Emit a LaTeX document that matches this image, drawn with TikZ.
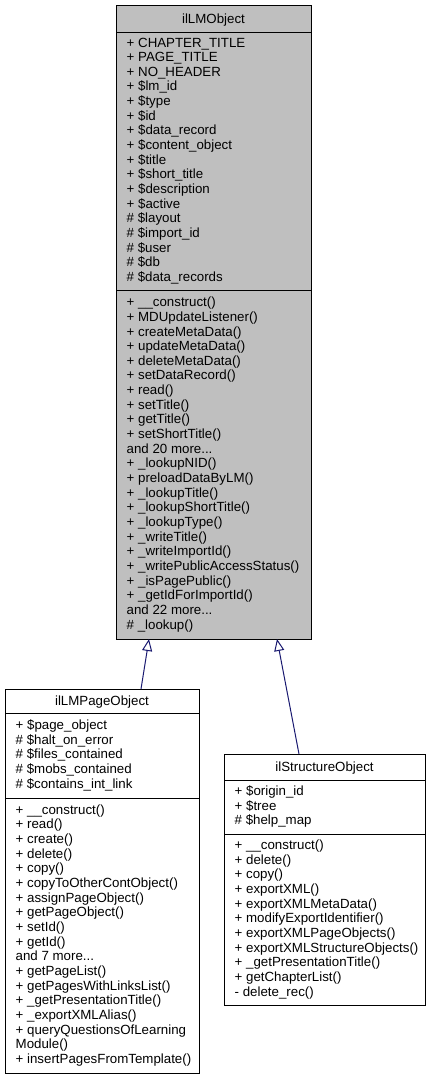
\documentclass[tikz,border=0pt]{standalone}
\usepackage{fontspec}
\setmainfont{Liberation Sans}
\usetikzlibrary{arrows.meta,calc}
\definecolor{edgeblue}{HTML}{191970}
\definecolor{basegray}{HTML}{BFBFBF}
\newcommand{\threedots}{...}
\begin{document}
\begin{tikzpicture}[x=1pt,y=-1pt,
  classbox/.style={draw=black, line width=1pt, rectangle, inner sep=0pt, outer sep=0pt, anchor=north west},
  sepline/.style={draw=black, line width=1pt},
  member/.style={anchor=base west, inner sep=0pt, font=\fontsize{13.3}{14.65}\selectfont},
  classtitle/.style={anchor=center, inner sep=0pt, text height=9.5pt, text depth=0pt, font=\fontsize{13.3}{14.65}\selectfont},
  inherit/.style={draw=edgeblue, line width=1pt, -{Triangle[open,length=12pt,width=10pt]}}]
\useasboundingbox (0,0) rectangle (432,1079);

% ---------- ilLMObject ----------
\node[classbox, fill=basegray, minimum width=195pt, minimum height=634pt] (lmobj) at (116,5) {};
\draw[sepline] (116,32) -- (311,32);
\draw[sepline] (116,290) -- (311,290);
\node[classtitle] (lmobjT) at (213.5,18.5) {ilLMObject};
\foreach \t [count=\i from 0] in {+ CHAPTER\_TITLE, + PAGE\_TITLE, + NO\_HEADER, + \$lm\_id, + \$type, + \$id, + \$data\_record, + \$content\_object, + \$title, + \$short\_title, + \$description, + \$active, \# \$layout, \# \$import\_id, \# \$user, \# \$db, \# \$data\_records}
  \node[member] (lmobjA\i) at (126.5,{47+\i*14.65}) {\t};
\foreach \t [count=\i from 0] in {+ \_\_construct(), + MDUpdateListener(), + createMetaData(), + updateMetaData(), + deleteMetaData(), + setDataRecord(), + read(), + setTitle(), + getTitle(), + setShortTitle(), and 20 more\threedots, + \_lookupNID(), + preloadDataByLM(), + \_lookupTitle(), + \_lookupShortTitle(), + \_lookupType(), + \_writeTitle(), + \_writeImportId(), + \_writePublicAccessStatus(), + \_isPagePublic(), + \_getIdForImportId(), and 22 more\threedots, \# \_lookup()}
  \node[member] (lmobjM\i) at (126.5,{306.7+\i*14.65}) {\t};

% ---------- ilLMPageObject ----------
\node[classbox, fill=white, minimum width=194pt, minimum height=384pt] (pageobj) at (5,689) {};
\draw[sepline] (5,713) -- (199,713);
\draw[sepline] (5,798) -- (199,798);
\node[classtitle] (pageobjT) at (102,701) {ilLMPageObject};
\foreach \t [count=\i from 0] in {+ \$page\_object, \# \$halt\_on\_error, \# \$files\_contained, \# \$mobs\_contained, \# \$contains\_int\_link}
  \node[member] (pageobjA\i) at (15.5,{729.5+\i*14.65}) {\t};
\foreach \t [count=\i from 0] in {+ \_\_construct(), + read(), + create(), + delete(), + copy(), + copyToOtherContObject(), + assignPageObject(), + getPageObject(), + setId(), + getId(), and 7 more\threedots, + getPageList(), + getPagesWithLinksList(), + \_getPresentationTitle(), + \_exportXMLAlias(), + queryQuestionsOfLearning, Module(), + insertPagesFromTemplate()}
  \node[member] (pageobjM\i) at (15.5,{814.3+\i*14.65}) {\t};

% ---------- ilStructureObject ----------
\node[classbox, fill=white, minimum width=201pt, minimum height=251pt] (structobj) at (224,754) {};
\draw[sepline] (224,780) -- (425,780);
\draw[sepline] (224,834) -- (425,834);
\node[classtitle] (structobjT) at (324.5,767) {ilStructureObject};
\foreach \t [count=\i from 0] in {+ \$origin\_id, + \$tree, \# \$help\_map}
  \node[member] (structobjA\i) at (234.5,{795.6+\i*14.65}) {\t};
\foreach \t [count=\i from 0] in {+ \_\_construct(), + delete(), + copy(), + exportXML(), + exportXMLMetaData(), + modifyExportIdentifier(), + exportXMLPageObjects(), + exportXMLStructureObjects(), + \_getPresentationTitle(), + getChapterList(), - delete\_rec()}
  \node[member] (structobjM\i) at (234.5,{849.6+\i*14.65}) {\t};

% ---------- inheritance ----------
\draw[inherit] ($(pageobj.north west)+(136,0)$) -- ($(lmobj.south west)+(33,0)$);
\draw[inherit] ($(structobj.north west)+(75,0)$) -- ($(lmobj.south west)+(161,0)$);
\end{tikzpicture}
\end{document}
